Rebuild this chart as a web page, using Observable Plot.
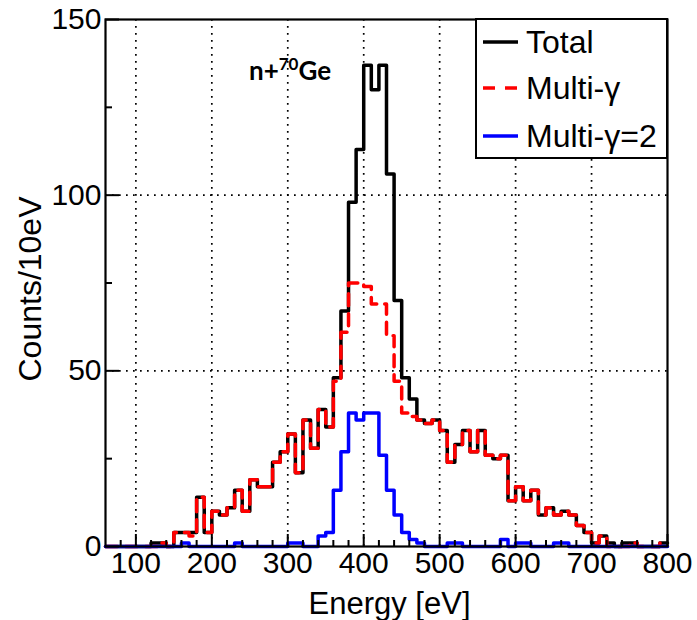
<!DOCTYPE html>
<html>
<head>
<meta charset="utf-8">
<script src="https://cdn.jsdelivr.net/npm/d3@7"></script>
<script src="https://cdn.jsdelivr.net/npm/@observablehq/plot@0.6"></script>
<style>
  body { margin: 0; background: #fff; }
  #wrap { position: relative; width: 697px; height: 620px; font-family: "Liberation Sans", Arial, sans-serif; }
  #legend { position: absolute; left: 475px; top: 18px; width: 193px; height: 141px; border: 2px solid #000; background: #fff; box-sizing: border-box; }
  .row { position: absolute; left: 6px; height: 40px; display: flex; align-items: center; font-size: 32px; color: #000; white-space: nowrap; }
  .row svg { margin-right: 8px; }
  #title { position: absolute; left: 249px; top: 54px; font-family: Lato, "Open Sans", sans-serif; font-weight: bold; font-size: 26px; color: #000; }
  #title sup { font-size: 17px; vertical-align: 0; position: relative; top: -10px; }
</style>
</head>
<body>
<div id="wrap"></div>
<script>
// ---- data (counts per 10 eV bin, bins start at 60 eV) ----
const binLow = d3.range(60, 800, 10);        // bin lower edges (eV)
const binHigh = 800;                          // upper edge of last bin
const total = [0,0,0,0,0,0,1,1,0,4,
               4,4,14,4,10,9,11,16,10,19,
               17,17,24,27,32,21,36,28,39,34,
               48,67,98,113,137,130,137,106,70,48,
               42,36,35,36,33,24,29,33,27,33,
               26,25,26,13,17,13,16,9,11,9,
               10,9,6,4,1,3,1,0,1,1,
               0,0,0,1];
const multiGamma = [0,0,0,0,0,0,0,1,0,4,
               4,3,14,4,10,9,11,16,10,19,
               17,17,24,27,32,21,36,28,39,34,
               47,61,75,75,74,69,69,60,47,38,
               37,36,35,36,33,24,29,33,27,33,
               26,25,26,13,17,13,16,9,11,9,
               10,9,6,4,1,3,0,0,0,1,
               0,0,0,1];
const multiGamma2 = [0,0,0,0,0,0,0,0,0,0,
               1,0,0,0,0,0,0,1,0,0,
               0,0,0,0,1,1,0,0,3,4,
               16,27,38,36,38,38,26,16,9,4,
               2,1,0,0,0,1,1,0,0,0,
               0,0,2,0,1,1,0,0,0,1,
               1,0,0,0,0,0,0,0,0,0,
               0,0,0,0];
const xMajor = [100,200,300,400,500,600,700,800];
const xMinor = d3.range(80, 800, 20).filter(v => v % 100 !== 0);
const yMajor = [0,50,100,150];
const yMinor = [25,75,125];
const seriesNames = ["Total", "Multi-\u03b3", "Multi-\u03b3=2"];
const seriesColors = ["#000000", "#ff0000", "#0000ff"];

function steps(vals) {
  const pts = binLow.map((e, i) => ({x: e, y: vals[i]}));
  pts.push({x: binHigh, y: vals[vals.length - 1]});
  return pts;
}

const W = 697, H = 620, mL = 105, mR = 30, mT = 19, mB = 74;
const plotW = W - mL - mR, plotH = H - mT - mB;
const grid = {stroke: "#000", strokeOpacity: 1, strokeWidth: 1.7, strokeDasharray: "1.7,5.3"};

const chart = Plot.plot({
  width: W, height: H,
  marginLeft: mL, marginRight: mR, marginTop: mT, marginBottom: mB,
  style: {fontFamily: "Liberation Sans, Arial, sans-serif", background: "white", color: "#000"},
  x: {domain: [60, 800]},
  y: {domain: [0, 150]},
  marks: [
    Plot.gridX(xMajor.filter(v => v < 800), grid),
    Plot.gridY([50, 100], grid),
    Plot.line(steps(total), {x: "x", y: "y", curve: "step-after", stroke: seriesColors[0], strokeWidth: 3.5}),
    Plot.line(steps(multiGamma), {x: "x", y: "y", curve: "step-after", stroke: seriesColors[1], strokeWidth: 3.5, strokeDasharray: "12,8"}),
    Plot.line(steps(multiGamma2), {x: "x", y: "y", curve: "step-after", stroke: seriesColors[2], strokeWidth: 3.5}),
    Plot.tickX(xMajor, {x: d => d, insetTop: plotH - 12, stroke: "#000", strokeWidth: 2}),
    Plot.tickX(xMinor, {x: d => d, insetTop: plotH - 6, stroke: "#000", strokeWidth: 2}),
    Plot.tickY(yMajor, {y: d => d, insetRight: plotW - 14, stroke: "#000", strokeWidth: 2}),
    Plot.tickY(yMinor, {y: d => d, insetRight: plotW - 7, stroke: "#000", strokeWidth: 2}),
    Plot.frame({stroke: "#000", strokeWidth: 2.2}),
    Plot.axisX({ticks: xMajor, tickSize: 0, tickPadding: 5, fontSize: 30, label: null}),
    Plot.axisY({ticks: yMajor, tickSize: 0, tickPadding: 4, fontSize: 30, label: null}),
    Plot.text(["Energy [eV]"], {frameAnchor: "bottom", dy: 58, dx: 3, fontSize: 31, textAnchor: "middle", lineAnchor: "middle"}),
    Plot.text(["Counts/10eV"], {frameAnchor: "left", dx: -75, dy: 6, rotate: -90, fontSize: 32, textAnchor: "middle", lineAnchor: "middle"})
  ]
});

const wrap = document.getElementById("wrap");
wrap.appendChild(chart);

// legend overlay
const legend = document.createElement("div");
legend.id = "legend";
const rowTops = [2, 48, 96];
seriesNames.forEach((name, i) => {
  const row = document.createElement("div");
  row.className = "row";
  row.style.top = rowTops[i] + "px";
  const dash = i === 1 ? 'stroke-dasharray="12,10"' : "";
  row.innerHTML = `<svg width="35" height="6"><line x1="0" x2="35" y1="3" y2="3" stroke="${seriesColors[i]}" stroke-width="3.5" ${dash}/></svg><span>${name}</span>`;
  legend.appendChild(row);
});
wrap.appendChild(legend);

// annotation
const title = document.createElement("div");
title.id = "title";
title.innerHTML = "n+<sup>70</sup>Ge";
wrap.appendChild(title);
</script>
</body>
</html>
